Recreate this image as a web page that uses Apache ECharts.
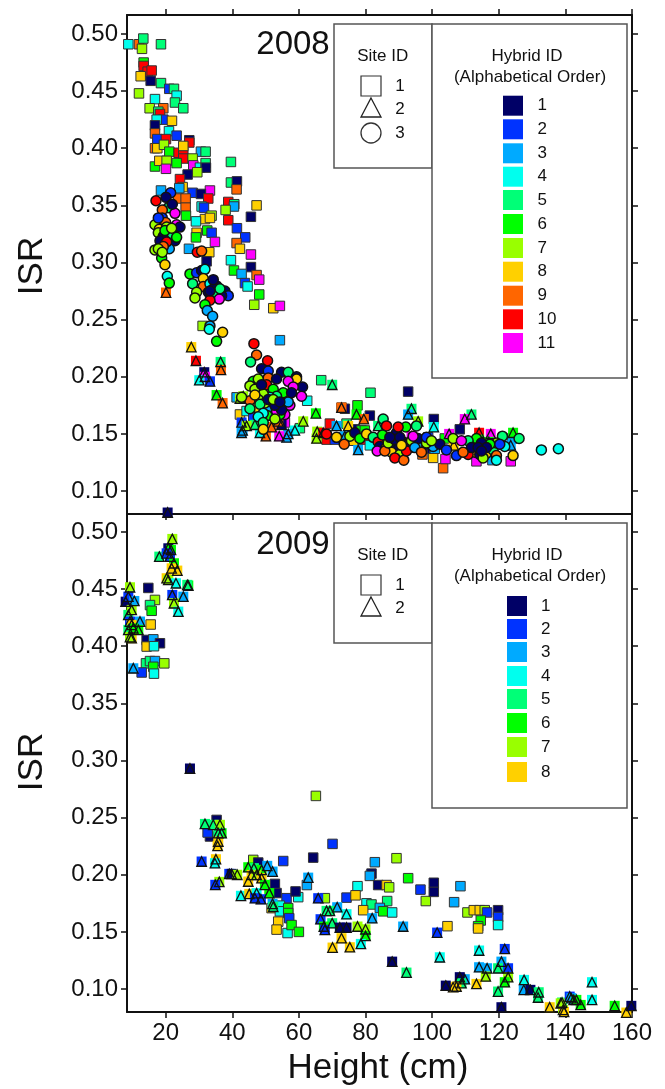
<!DOCTYPE html>
<html><head><meta charset="utf-8">
<style>html,body{margin:0;padding:0;background:#fff}#c{width:665px;height:1089px}</style>
<script src="https://cdn.jsdelivr.net/npm/echarts@6/dist/echarts.min.js"></script></head>
<body><div id="c"></div><script>
const hybridColors=['#000066','#0033ff','#00aaff','#00ffee','#00ff77','#00ff00','#99ff00','#ffd000','#ff6600','#ff0000','#ff00ff'];
const xTicks=[20,40,60,80,100,120,140,160];
const yTicks=[0.10,0.15,0.20,0.25,0.30,0.35,0.40,0.45,0.50];
// each point: [height, ISR, hybrid id]
const squares2008=[[8.8,.491,4],[12,.491,9],[13.3,.496,5],[12.9,.487,7],[18.6,.491,5],[13.4,.475,6],[13.4,.472,10],[14.6,.467,10],[15.8,.468,10],[12.5,.463,8],[15.5,.459,1],[18.6,.457,5],[12,.448,7],[21.1,.452,2],[22.5,.452,5],[23.3,.446,4],[22.8,.44,5],[25.3,.435,5],[16.8,.443,4],[15.2,.435,7],[19.3,.435,9],[17.8,.432,5],[18.3,.43,10],[19.3,.425,2],[17.3,.425,4],[21.9,.424,8],[16.8,.42,1],[16.8,.413,9],[21,.415,4],[23.3,.411,2],[17.5,.408,2],[20.1,.408,10],[27.1,.407,1],[27.1,.405,10],[16.8,.4,9],[17.5,.4,8],[19.5,.403,7],[21.1,.397,6],[23.9,.396,10],[25.3,.396,10],[25.3,.402,8],[25.3,.391,10],[30.6,.397,3],[32,.397,5],[28.1,.391,7],[16.8,.384,6],[18.1,.389,8],[20.3,.389,7],[23.3,.387,6],[20.1,.382,11],[28.3,.385,11],[30.3,.383,4],[32,.387,5],[32.1,.383,1],[29.5,.379,7],[26.6,.377,1],[39.6,.388,5],[24.3,.373,10],[25.1,.366,8],[24.1,.365,3],[39.6,.37,5],[41.4,.371,1],[41.3,.364,9],[18.6,.363,3],[28.1,.361,2],[33.3,.363,11],[30.6,.36,1],[32.8,.356,10],[23.8,.356,9],[26,.356,9],[26,.348,9],[26.1,.341,6],[38.8,.353,10],[40.6,.351,5],[40.5,.349,3],[38,.346,7],[47.3,.35,8],[45.6,.34,1],[30.8,.349,4],[31.5,.348,2],[33.8,.341,7],[31.8,.338,8],[33.3,.339,8],[29.1,.336,4],[38.8,.337,10],[41.4,.33,2],[43.9,.322,2],[29.3,.326,8],[29.1,.322,6],[32.5,.328,6],[33.8,.326,2],[34.8,.318,11],[41.3,.317,9],[42.3,.312,8],[45.6,.307,11],[27,.312,3],[39.6,.302,4],[33.1,.309,8],[32.3,.301,1],[45.6,.296,1],[40.5,.293,6],[42.8,.29,3],[47.3,.289,9],[48.1,.285,11],[43.8,.282,2],[44.6,.279,4],[48.1,.272,6],[46.6,.263,7],[52.3,.26,8],[54.3,.262,11],[31.1,.2445,7],[54.3,.232,3],[62.5,.179,4],[41.3,.182,3],[42.3,.167,8],[44.3,.17,4],[46.3,.164,2],[48.8,.16,6],[55.8,.16,11],[60.3,.155,5],[66.7,.197,5],[81.5,.186,5],[92.8,.187,1],[72.8,.173,9],[73.8,.172,1],[77.6,.175,6],[81.3,.166,1],[69.3,.159,10],[74.3,.159,5],[68.3,.145,10],[70.8,.145,2],[73.3,.147,10],[76.8,.154,1],[78.8,.153,6],[79.8,.153,6],[77.8,.145,7],[76.3,.144,8],[80.3,.145,10],[81.3,.14,4],[100.5,.163,1],[108.3,.154,1],[124,.146,3],[123.6,.126,11],[118.1,.127,3],[103.3,.12,9],[104,.128,11],[100.3,.129,8],[103.8,.146,6],[98.8,.147,2],[100.8,.137,3],[97.8,.137,1],[97.1,.132,9],[95.3,.138,3],[93.3,.14,2],[113.3,.126,11]];
const triangles2008=[[20.1,.2737,9],[27.7,.226,8],[29.1,.214,10],[36.5,.213,5],[36.6,.206,9],[31.6,.204,1],[31.8,.2,11],[30.1,.197,4],[33.3,.196,2],[35.3,.184,6],[37.1,.177,9],[42.3,.181,7],[43.3,.183,7],[42.8,.16,2],[43.1,.153,3],[42.8,.151,3],[61.3,.161,7],[58.8,.153,4],[56.3,.147,3],[56.8,.15,3],[54.1,.148,11],[50.1,.148,9],[51.8,.156,9],[48.3,.151,4],[46.8,.158,5],[44.3,.157,7],[54.8,.158,1],[53.8,.161,9],[65.1,.168,6],[70,.193,5],[77.3,.167,6],[79.5,.163,9],[93.8,.172,5],[92.8,.167,3],[95.8,.161,7],[83.8,.157,5],[65.5,.152,7],[65.3,.146,7],[67.3,.151,10],[71.3,.157,3],[74.8,.157,8],[77.8,.136,3],[72.8,.173,9],[73.8,.148,3],[100.5,.156,4],[111.8,.167,5],[109.8,.163,11],[114.1,.151,10],[114.1,.145,6],[117.6,.15,11],[124.3,.151,6],[123.6,.14,3],[106.5,.14,8],[105.1,.15,11],[93.8,.148,11],[117,.143,6]];
const circles2008=[[21.5,.361,2],[20.1,.357,1],[17.1,.354,10],[20.8,.348,5],[19,.346,9],[22.8,.343,11],[19,.339,2],[20,.335,9],[16.8,.333,7],[23.3,.333,11],[18.1,.329,8],[21.3,.326,6],[22.8,.319,1],[18.8,.317,10],[16.8,.311,7],[21.1,.312,3],[29.5,.309,10],[30.8,.31,9],[18.8,.304,6],[19.8,.298,8],[20.3,.322,1],[17.8,.326,7],[19.3,.323,1],[22,.325,5],[18.3,.319,1],[20.3,.318,10],[24.3,.331,1],[17.8,.339,2],[22,.351,1],[20.3,.331,7],[19.8,.328,6],[21.8,.33,7],[23.3,.322,6],[19.3,.314,9],[17.8,.312,7],[19,.309,7],[20.5,.288,4],[21.1,.282,6],[27.3,.29,6],[29.3,.291,2],[30.8,.293,1],[31.8,.294,4],[31.3,.286,8],[28.1,.2815,5],[31.3,.279,9],[33.3,.2815,4],[35.3,.2795,1],[34.3,.277,1],[37.8,.275,1],[38.8,.271,2],[36.8,.271,1],[29.3,.274,7],[28.8,.269,7],[32.8,.274,1],[34.3,.271,5],[36.1,.268,11],[33.3,.267,10],[34.3,.285,1],[36.3,.277,5],[33.3,.275,1],[31.8,.263,6],[32.5,.258,3],[34.1,.253,3],[33.3,.2445,3],[33.1,.2416,4],[37.1,.239,8],[35.3,.231,6],[46.5,.229,10],[47.3,.219,9],[45.5,.213,5],[50.6,.214,10],[48.8,.207,1],[50.8,.205,2],[50.8,.199,9],[46.3,.196,6],[45.3,.192,7],[47.8,.198,7],[50.3,.193,10],[46.8,.189,7],[54.8,.204,1],[56.8,.204,5],[53.3,.198,1],[59.3,.2,1],[59.3,.198,8],[61.1,.191,1],[56.8,.196,11],[58.3,.191,11],[60.8,.183,11],[57.3,.175,11],[55.8,.18,6],[55.3,.186,6],[52.3,.189,6],[53.3,.183,5],[51.3,.182,4],[49.3,.185,7],[47.8,.18,7],[45.3,.179,9],[42.8,.182,7],[47.3,.173,8],[50.3,.171,3],[50.5,.166,6],[45.3,.172,5],[56.8,.178,3],[55.8,.167,11],[54.3,.167,6],[53.3,.17,11],[54.8,.171,1],[48.8,.193,1],[52.8,.175,1],[49.8,.177,7],[46.8,.184,8],[48.3,.176,5],[50.8,.18,1],[52.3,.18,7],[54.3,.178,1],[57.8,.186,1],[49.3,.168,4],[47.8,.165,4],[52.8,.163,7],[49.3,.16,5],[49.3,.154,8],[68.3,.15,10],[71.3,.147,8],[75.3,.148,7],[76.8,.151,1],[78.3,.146,6],[80.3,.15,8],[82.3,.147,5],[83.8,.143,10],[84.3,.139,1],[86.3,.138,8],[88.3,.14,1],[89.8,.137,1],[91.3,.143,1],[92.8,.141,1],[93.8,.144,7],[87.8,.134,8],[90.3,.132,7],[95.8,.146,1],[100.3,.139,3],[102.3,.141,1],[106.3,.146,7],[112.3,.141,6],[113.3,.146,6],[112.8,.134,8],[116.3,.133,8],[118.3,.136,5],[121.8,.139,4],[85.3,.163,5],[92.1,.156,6],[86.3,.157,10],[85.1,.149,6],[73.6,.141,9],[83.5,.135,11],[85.8,.135,9],[88.8,.129,10],[91.5,.127,9],[86.8,.142,7],[89.3,.151,1],[88.8,.145,1],[87.3,.147,1],[90.3,.147,1],[92.3,.135,10],[94.8,.138,3],[94.3,.148,11],[96.8,.134,9],[98.3,.142,7],[90.8,.14,8],[89.8,.156,10],[98.3,.147,2],[95.3,.157,5],[121.1,.148,5],[126.1,.146,5],[124.3,.131,8],[119.3,.131,9],[119.3,.127,4],[107.3,.131,2],[104.3,.136,2],[110.8,.144,5],[108.8,.144,11],[99.8,.144,7],[119.3,.142,7],[117.3,.141,6],[114.3,.132,1],[115.3,.129,7],[110.8,.132,10],[111.8,.138,1],[114.8,.142,1],[116.3,.138,1],[113.8,.138,1],[114.8,.135,1],[120.3,.141,2],[109.3,.134,9],[132.8,.136,4],[137.9,.137,4]];
const squares2009=[[14.8,.451,1],[16.8,.4405,7],[15.3,.436,5],[15.8,.431,6],[15.5,.419,8],[14.3,.4055,1],[16.3,.406,3],[18.3,.4026,1],[14.3,.3997,8],[16.5,.4,4],[14.1,.385,5],[15.3,.387,5],[16.8,.387,3],[16.3,.382,6],[19.6,.385,7],[16.5,.376,4],[12.8,.377,2],[35.3,.248,1],[33.3,.2335,1],[32.6,.237,2],[46.3,.213,7],[47.8,.2107,1],[55.3,.212,2],[52.8,.192,1],[53.3,.184,1],[56.3,.1795,2],[59.8,.1804,4],[59,.1854,1],[51.8,.1708,8],[54.3,.173,4],[54.3,.168,4],[56.8,.1708,6],[56.8,.1665,6],[57.1,.162,2],[53.8,.159,8],[53.3,.152,8],[56.6,.149,4],[57.8,.156,6],[60,.15,6],[65.1,.269,7],[70.1,.227,2],[64.3,.215,1],[82.8,.211,3],[89.3,.2145,7],[92.8,.197,6],[81.8,.201,1],[81.3,.199,3],[83.8,.191,1],[86.3,.191,8],[87.1,.189,7],[77.6,.19,4],[62.4,.191,3],[74.3,.18,2],[77,.182,8],[67.8,.1795,7],[80.3,.175,4],[81.8,.174,5],[86.5,.177,5],[79.3,.169,8],[84.3,.171,3],[85.3,.168,6],[88,.167,4],[96.5,.187,2],[98.1,.177,7],[100.5,.193,1],[100.5,.185,1],[106.6,.176,3],[108.5,.19,3],[104.6,.155,8],[110.6,.167,7],[112.5,.169,8],[114.3,.169,8],[115.8,.169,7],[116.5,.167,2],[114.6,.16,6],[113.8,.155,6],[113.8,.153,8],[119.8,.169,1],[119.8,.163,2],[119.8,.156,4]];
const triangles2009=[[20.6,.517,1],[27.3,.293,1],[9.3,.4516,7],[8,.439,1],[8.8,.4434,2],[10.6,.4396,3],[8.8,.4274,5],[9.8,.4318,7],[12.3,.4216,3],[9.3,.4216,2],[9.8,.4187,8],[8.8,.4143,5],[11.8,.4143,6],[10.3,.4157,6],[9.8,.407,8],[9.3,.408,7],[10.3,.3807,3],[22,.4939,7],[20.8,.4857,1],[21.6,.4843,6],[18.1,.4784,5],[20.3,.4813,2],[21.3,.4784,2],[22.5,.4726,6],[21.8,.4682,8],[23.5,.4662,8],[20.3,.4595,8],[20.8,.458,7],[23.1,.4551,4],[26.8,.4531,6],[26.5,.4537,5],[22,.4449,2],[25.3,.4434,3],[22.5,.4376,7],[23.8,.4303,4],[30.8,.2116,2],[35.1,.2136,8],[34.8,.2101,4],[31.8,.2445,5],[34.3,.2437,5],[36.3,.2437,7],[36.8,.2364,6],[35.8,.2364,5],[35.8,.2291,8],[35.6,.2253,8],[39.1,.2008,2],[39.8,.2008,1],[41.5,.2,7],[36.1,.1938,7],[34.9,.1912,2],[42.6,.1816,4],[45.1,.1833,8],[44.8,.2066,6],[46.5,.2058,5],[45.8,.1999,8],[44.8,.1941,8],[48.8,.2043,6],[47.3,.1999,7],[48.8,.197,8],[49.8,.1912,6],[50.5,.2078,3],[52.1,.2028,3],[51.1,.1839,6],[47.3,.1839,4],[46.8,.1795,2],[48.6,.1786,2],[52.1,.1746,3],[52.3,.172,5],[62.8,.1975,3],[65.8,.1795,2],[71.5,.1716,3],[74.3,.1655,4],[66.5,.1611,2],[68.3,.1684,5],[69.3,.1684,5],[70,.1576,5],[67.5,.1547,6],[67.8,.1518,2],[72.3,.1538,1],[74.3,.1538,1],[77.6,.1547,7],[80,.1523,7],[72.8,.1445,8],[80,.1465,6],[70.1,.1363,8],[75.3,.1366,8],[78.6,.1395,4],[82,.162,3],[91.3,.1547,3],[88,.124,1],[92.3,.1144,5],[101.5,.1494,2],[102.3,.1278,4],[114.1,.1337,4],[121.8,.1351,2],[120.8,.124,3],[114.1,.1191,3],[116.5,.1182,3],[119.8,.1182,5],[122.8,.1182,2],[116.1,.111,7],[122.8,.1104,7],[121.8,.106,6],[119.8,.0978,5],[113.3,.1045,8],[109.8,.1086,3],[108.3,.1104,1],[108.8,.1051,5],[107.3,.1022,8],[106.3,.1016,8],[104.1,.103,1],[127.6,.108,4],[127.5,.0993,3],[129.5,.0993,1],[132,.0972,5],[131.8,.0926,5],[135.3,.0841,8],[120.8,.0841,1],[139,.0882,5],[138.6,.0875,7],[139.3,.0818,7],[139.6,.08,8],[141.3,.0934,2],[141.8,.092,3],[142.5,.0905,3],[143.3,.0905,6],[144.6,.0861,6],[148,.0905,4],[148,.106,4],[154.8,.0853,6],[158.3,.0794,8],[159.8,.0853,1]];
const panels=[{year:'2008',top:15,height:499,yMin:0.0799,yMax:0.5166,squares:squares2008,triangles:triangles2008,circles:circles2008},
{year:'2009',top:514,height:498,yMin:0.0799,yMax:0.5157,squares:squares2009,triangles:triangles2009,circles:[]}];
const FONT='"Liberation Sans",Arial,sans-serif';
const INK='#111';
const col=p=>hybridColors[p.value[2]-1];
const grid=[],xAxis=[],yAxis=[],series=[];
const XMIN=8.4,XMAX=160;
function xa(g,pos,labels){return{gridIndex:g,type:'value',position:pos,min:XMIN,max:XMAX,
 axisLine:{show:true,onZero:false,lineStyle:{color:'#111',width:2}},splitLine:{show:false},
 axisTick:{show:true,length:6,inside:false,customValues:xTicks,lineStyle:{color:'#111',width:1.5}},
 axisLabel:{show:labels,customValues:xTicks,color:INK,fontSize:24,fontFamily:FONT,margin:9,hideOverlap:false,showMinLabel:true,showMaxLabel:true}}}
function ya(g,pos,labels,p){return{gridIndex:g,type:'value',position:pos,min:p.yMin,max:p.yMax,
 axisLine:{show:true,onZero:false,lineStyle:{color:'#111',width:2}},splitLine:{show:false},
 axisTick:{show:true,length:6,inside:false,customValues:yTicks,lineStyle:{color:'#111',width:1.5}},
 axisLabel:{show:labels,customValues:yTicks,color:INK,fontSize:24,fontFamily:FONT,margin:9,formatter:v=>Number(v).toFixed(2),hideOverlap:false}}}
panels.forEach((p,i)=>{
 grid.push({left:127,width:505,top:p.top,height:p.height,containLabel:false});
 const xi=xAxis.length,yi=yAxis.length;
 xAxis.push(xa(i,'bottom',i===1)); if(i===0)xAxis.push(xa(i,'top',false));
 yAxis.push(ya(i,'left',true,p)); yAxis.push(ya(i,'right',false,p));
 const base={type:'scatter',xAxisIndex:xi,yAxisIndex:yi,clip:false,animation:false,silent:true,progressive:0};
 series.push({...base,name:p.year+' site 1',data:p.squares,symbol:'rect',symbolSize:9.5,z:3,itemStyle:{color:col,borderColor:'#333',borderWidth:1,opacity:1}});
 series.push({...base,name:p.year+' site 2 fill',data:p.triangles,symbol:'rect',symbolSize:10,z:4,itemStyle:{color:col,borderWidth:0,opacity:1}});
 series.push({...base,name:p.year+' site 2',data:p.triangles,symbol:'triangle',symbolSize:9.5,z:5,itemStyle:{color:'rgba(0,0,0,0)',borderColor:'#111',borderWidth:1.3,opacity:1}});
 if(p.circles.length)series.push({...base,name:p.year+' site 3',data:p.circles,symbol:'circle',symbolSize:10,z:6,itemStyle:{color:col,borderColor:'#111',borderWidth:1.5,opacity:1}});
});
const g=[];
const txt=(x,y,s,size,align)=>g.push({type:'text',x,y,z:20,style:{text:s,x:0,y:0,fill:INK,font:size+'px '+FONT,textAlign:align||'center',textVerticalAlign:'middle'}});
const box=(x1,y1,x2,y2)=>g.push({type:'rect',z:15,shape:{x:x1,y:y1,width:x2-x1,height:y2-y1},style:{fill:'#fff',stroke:'#555',lineWidth:1.5}});
function legend(y0,siteBottom,hyBottom,swX,numX,ys,n,sites){
 box(334,y0,432,siteBottom);box(432,y0,627,hyBottom);
 txt(382.7,y0+32,'Site ID',17);
 const sy=[y0+62,y0+85,y0+109];
 for(let i=0;i<sites;i++){txt(400,sy[i],String(i+1),17);
  if(i===0)g.push({type:'rect',z:20,shape:{x:361,y:sy[i]-10,width:20,height:20},style:{fill:'none',stroke:'#333',lineWidth:1.2}});
  if(i===1)g.push({type:'polygon',z:20,shape:{points:[[371,sy[i]-11],[381,sy[i]+8],[361,sy[i]+8]]},style:{fill:'none',stroke:'#222',lineWidth:1.3}});
  if(i===2)g.push({type:'circle',z:20,shape:{cx:371,cy:sy[i],r:10},style:{fill:'none',stroke:'#333',lineWidth:1.3}});
 }
 txt(527,y0+32,'Hybrid ID',17);
 txt(530,y0+53,'(Alphabetical Order)',17);
 for(let i=0;i<n;i++){g.push({type:'rect',z:20,shape:{x:swX,y:ys[i]-10,width:20,height:20},style:{fill:hybridColors[i]}});
  txt(numX,ys[i],String(i+1),17,'left');}
}
legend(24,168,378,503,537.5,[105.7,129.3,153.3,176.7,200,224,248,271.7,295.7,319.3,343],11,3);
legend(523,643,808,507,541,[606,629,652,676,699,723,747,772],8,2);
txt(293,45,'2008',33);txt(293,545,'2009',33);
txt(378,1068,'Height (cm)',35);
g.push({type:'text',x:32,y:266,rotation:Math.PI/2,z:20,style:{text:'ISR',fill:INK,font:'35px '+FONT,textAlign:'center',textVerticalAlign:'middle'}});
g.push({type:'text',x:32,y:762,rotation:Math.PI/2,z:20,style:{text:'ISR',fill:INK,font:'35px '+FONT,textAlign:'center',textVerticalAlign:'middle'}});
const chart=echarts.init(document.getElementById('c'),null,{renderer:'canvas',width:665,height:1089});
chart.setOption({animation:false,backgroundColor:'#fff',grid,xAxis,yAxis,series,graphic:g});
</script></body></html>
